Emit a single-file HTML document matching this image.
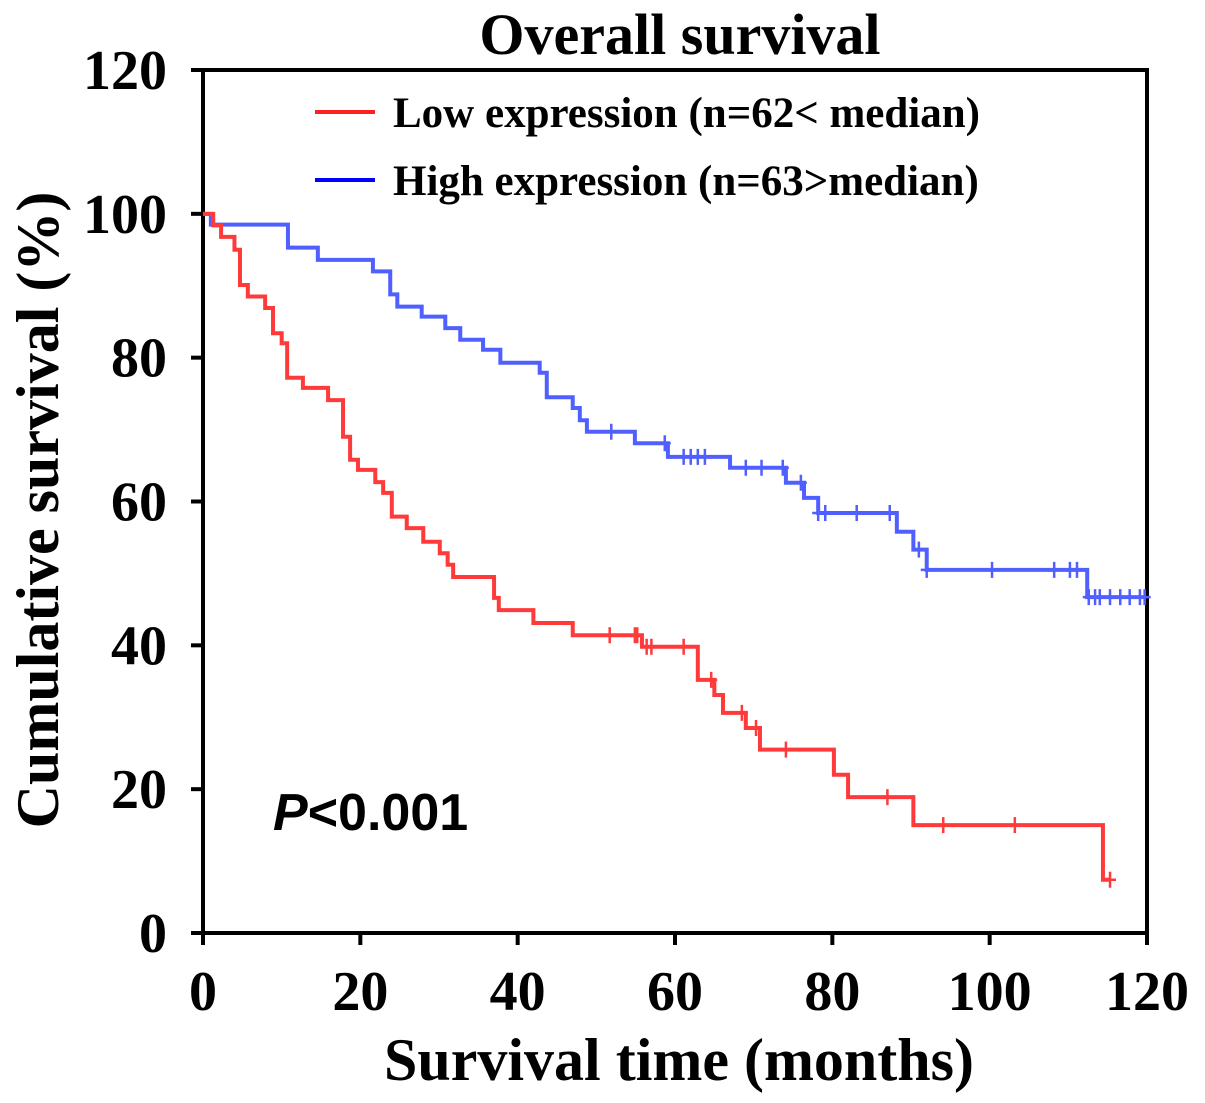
<!DOCTYPE html>
<html><head><meta charset="utf-8"><style>
html,body{margin:0;padding:0;background:#fff;}
svg{display:block;}
text{font-family:"Liberation Serif",serif;font-weight:bold;fill:#000;}
</style></head><body>
<svg id="chart" width="1205" height="1103" viewBox="0 0 1205 1103">
<text x="680" y="54" font-size="58" text-anchor="middle">Overall survival</text>
<g id="axes"></g>
<g id="curves"></g>
<g>
<line x1="315" y1="112" x2="375" y2="112" stroke="#ff2020" stroke-width="4"/>
<text x="393" y="127" font-size="43">Low expression (n=62&lt; median)</text>
<line x1="315" y1="180" x2="375" y2="180" stroke="#0000ff" stroke-width="4"/>
<text x="393" y="195" font-size="43">High expression (n=63&gt;median)</text>
</g>
<text x="273" y="830" font-size="52" style="font-family:'Liberation Sans',sans-serif"><tspan font-style="italic">P</tspan>&lt;0.001</text>
<text x="679" y="1080" font-size="60" text-anchor="middle">Survival time (months)</text>
<text transform="translate(58,510) rotate(-90)" font-size="60" text-anchor="middle">Cumulative survival (%)</text>
</svg>
<script>
const xTicks = [0,20,40,60,80,100,120];
const yTicks = [0,20,40,60,80,100,120];
const lowTimes = [0,1.3,2.3,4,4.7,5.7,7.9,8.9,10,10.7,12.7,15.9,17.8,18.7,19.7,21.9,22.9,24,25.9,28,30.1,31.1,31.8,37,37.6,42,47,55.8,62.9,65,66.1,69,70.8,80.2,82,90.3,114.4];
const lowSurv = [100,98.4,96.8,95,90.1,88.5,86.9,83.4,82,77.2,75.8,74.1,69,65.8,64.4,62.7,61.2,57.9,56.3,54.4,52.8,51.2,49.5,46.6,44.9,43.1,41.4,39.8,35.2,33.1,30.6,28.5,25.5,22,18.9,15,7.4];
const lowEnd = 115.3;
const lowCensor = [51.7,54.9,55.2,56.4,57,61.1,64.6,68.5,70.3,74.1,87,94.1,103.2,115.3];
const highTimes = [0,1,10.8,14.6,21.6,23.8,24.7,27.8,30.8,32.7,35.6,37.8,42.8,43.7,47,47.9,48.8,54.9,59.1,67,74.1,76.4,78.2,88.2,90.3,92,112.4];
const highSurv = [100,98.5,95.3,93.6,92,88.8,87.1,85.7,84.1,82.5,81.1,79.3,77.9,74.5,73,71.3,69.7,68.1,66.2,64.7,62.6,60.5,58.4,55.8,53.3,50.5,46.7];
const highEnd = 119.7;
const highCensor = [51.9,58.7,61.1,62,62.9,63.8,69,71,73.7,76,78.2,79.1,83.1,87.3,91,92,100.3,108.2,110.2,111.1,112.6,113.4,114,115.3,116.6,117.8,119.1,119.7];

const X0=203,X1=1147,Y0=933,Y1=70;
const xs = t => X0 + t/120*(X1-X0);
const ys = s => Y0 - s/120*(Y0-Y1);
const NS='http://www.w3.org/2000/svg';
function mk(tag, attrs, parent){const e=document.createElementNS(NS,tag);for(const k in attrs)e.setAttribute(k,attrs[k]);parent.appendChild(e);return e;}

const axes=document.getElementById('axes');
let frame=mk('rect',{x:X0,y:Y1,width:X1-X0,height:Y0-Y1,fill:'none',stroke:'#000','stroke-width':4},axes);


xTicks.forEach(v=>{
  const l=mk('line',{x1:xs(v),x2:xs(v),y1:Y0,y2:Y0+12,stroke:'#000','stroke-width':4},axes);
  
  
  const t=mk('text',{x:xs(v),y:1010,'font-size':56,'text-anchor':'middle'},axes);
  t.textContent=v;
  
  
});
yTicks.forEach(v=>{
  const l=mk('line',{x1:X0-12,x2:X0,y1:ys(v),y2:ys(v),stroke:'#000','stroke-width':4},axes);
  
  
  const t=mk('text',{x:X0-36,y:ys(v)+19,'font-size':56,'text-anchor':'end'},axes);
  t.textContent=v;
  
  
});

const curves=document.getElementById('curves');
function stepPath(times,surv,end){
  let d='M'+xs(times[0])+','+ys(surv[0]);
  for(let i=1;i<times.length;i++){d+=' H'+xs(times[i])+' V'+ys(surv[i]);}
  d+=' H'+xs(end);
  return d;
}
function survAt(times,surv,t){let s=surv[0];for(let i=0;i<times.length;i++){if(times[i]<=t)s=surv[i];}return s;}
function drawSeries(times,surv,end,cens,color,name){
  const p=mk('path',{d:stepPath(times,surv,end),fill:'none',stroke:color,'stroke-width':4},curves);
  
  
  cens.forEach(c=>{
    const s=survAt(times,surv,c);
    const g=mk('path',{d:'M'+xs(c)+','+(ys(s)-8)+' V'+(ys(s)+8)+' M'+(xs(c)-6)+','+ys(s)+' H'+(xs(c)+6),stroke:color,'stroke-width':2.5,fill:'none'},curves);
    
    
  });
}
drawSeries(highTimes,highSurv,highEnd,highCensor,'#5060ff','high-expression');
drawSeries(lowTimes,lowSurv,lowEnd,lowCensor,'#ff3a3a','low-expression');
</script>
</body></html>
